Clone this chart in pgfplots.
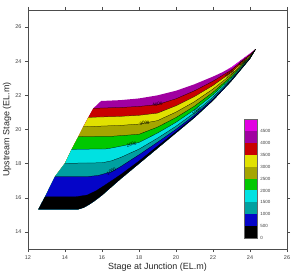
\documentclass[border=0pt]{standalone}
\usepackage{pgfplots}
\pgfplotsset{compat=1.18}
\usepackage{fontspec}
\setmainfont{Liberation Sans}
\definecolor{cBlack}{RGB}{0,0,0}
\definecolor{cBlue}{RGB}{5,5,200}
\definecolor{cTeal}{RGB}{0,160,160}
\definecolor{cCyan}{RGB}{0,225,225}
\definecolor{cGreen}{RGB}{0,200,0}
\definecolor{cOlive}{RGB}{165,165,0}
\definecolor{cYellow}{RGB}{225,225,0}
\definecolor{cRed}{RGB}{200,0,0}
\definecolor{cPurple}{RGB}{160,0,160}
\definecolor{cMagenta}{RGB}{225,0,225}
\begin{document}
\begin{tikzpicture}
\useasboundingbox (-28bp,-22bp) rectangle (263bp,249bp);
\begin{axis}[
  width=259bp, height=239bp, scale only axis,
  xmin=12, xmax=26, ymin=13, ymax=27,
  xtick={12,14,...,26}, ytick={14,16,...,26},
  tick align=outside, major tick length=3bp,
  axis line style={black!70}, every tick/.style={black!70},
  tick label style={font=\fontsize{5.5}{6}\selectfont, text=black!75},
  /pgf/number format/assume math mode=true,
  xlabel={Stage at Junction (EL.m)},
  ylabel={Upstream Stage (EL.m)},
  label style={font=\fontsize{9}{10}\selectfont, text=black!85},
  xlabel style={at={(axis description cs:0.5,-0.074)}, anchor=center},
  ylabel style={at={(axis description cs:-0.081,0.5)}, anchor=center},
  clip=false,
]
% whole domain (top band, 4000-4500)
\addplot[fill=cPurple, draw=none] coordinates {(12.56,15.32)(14.7,15.32)(15.0,15.42)(15.3,15.6)(15.6,15.82)(16,16.15)(17,17.1)(18,18.0)(19,18.9)(20,19.8)(21,20.7)(22,21.7)(23,22.85)(24,24.15)(24.3,24.7)(24,24.45)(23.5,24.05)(23,23.65)(22.5,23.35)(22,23.1)(21,22.65)(20,22.27)(19,22.0)(18,21.82)(17,21.72)(15.95,21.67)(15.53,21.24)(15.26,20.71)(14.99,20.16)(14.72,19.58)(14.36,18.84)(14.0,18.02)(13.46,17.24)(12.92,16.06)};
% above 4500 near the tip
\addplot[fill=cMagenta, draw=none] coordinates {(22.8,23.52)(23,23.65)(23.5,24.05)(24,24.45)(24.3,24.7)(24,24.42)(23.5,23.99)(23,23.6)};
% below 4000
\addplot[fill=cRed, draw=none] coordinates {(12.56,15.32)(12.92,16.06)(13.46,17.24)(14.0,18.02)(14.36,18.84)(14.72,19.58)(14.99,20.16)(15.26,20.71)(15.53,21.24)(17,21.29)(18,21.35)(19,21.46)(20,21.80)(21,22.27)(22,22.83)(23,23.49)(24,24.39)(24.3,24.7)(24,24.15)(23,22.85)(22,21.7)(21,20.7)(20,19.8)(19,18.9)(18,18.0)(17,17.1)(16,16.15)(15.6,15.82)(15.3,15.6)(15.0,15.42)(14.7,15.32)};
% below 3500
\addplot[fill=cYellow, draw=none] coordinates {(12.56,15.32)(12.92,16.06)(13.46,17.24)(14.0,18.02)(14.36,18.84)(14.72,19.58)(14.99,20.16)(15.26,20.71)(17,20.77)(18,20.83)(19,20.96)(20,21.39)(21,21.93)(22,22.58)(23,23.35)(24,24.34)(24.3,24.7)(24,24.15)(23,22.85)(22,21.7)(21,20.7)(20,19.8)(19,18.9)(18,18.0)(17,17.1)(16,16.15)(15.6,15.82)(15.3,15.6)(15.0,15.42)(14.7,15.32)};
% below 3000
\addplot[fill=cOlive, draw=none] coordinates {(12.56,15.32)(12.92,16.06)(13.46,17.24)(14.0,18.02)(14.36,18.84)(14.72,19.58)(14.99,20.16)(17,20.24)(18,20.32)(19,20.52)(20,21.02)(21,21.63)(22,22.37)(23,23.23)(24,24.29)(24.3,24.7)(24,24.15)(23,22.85)(22,21.7)(21,20.7)(20,19.8)(19,18.9)(18,18.0)(17,17.1)(16,16.15)(15.6,15.82)(15.3,15.6)(15.0,15.42)(14.7,15.32)};
% below 2500
\addplot[fill=cGreen, draw=none] coordinates {(12.56,15.32)(12.92,16.06)(13.46,17.24)(14.0,18.02)(14.36,18.84)(14.72,19.58)(16.5,19.6)(17,19.64)(18,19.72)(19,20.14)(20,20.70)(21,21.37)(22,22.18)(23,23.13)(24,24.25)(24.3,24.7)(24,24.15)(23,22.85)(22,21.7)(21,20.7)(20,19.8)(19,18.9)(18,18.0)(17,17.1)(16,16.15)(15.6,15.82)(15.3,15.6)(15.0,15.42)(14.7,15.32)};
% below 2000
\addplot[fill=cCyan, draw=none] coordinates {(12.56,15.32)(12.92,16.06)(13.46,17.24)(14.0,18.02)(14.36,18.84)(16.2,18.86)(16.6,18.93)(17,19.02)(18,19.24)(19,19.79)(20,20.42)(21,21.16)(22,22.03)(23,23.04)(24,24.22)(24.3,24.7)(24,24.15)(23,22.85)(22,21.7)(21,20.7)(20,19.8)(19,18.9)(18,18.0)(17,17.1)(16,16.15)(15.6,15.82)(15.3,15.6)(15.0,15.42)(14.7,15.32)};
% below 1500
\addplot[fill=cTeal, draw=none] coordinates {(12.56,15.32)(12.92,16.06)(13.46,17.24)(14.0,18.02)(16.0,18.05)(16.5,18.16)(17,18.36)(18,18.85)(19,19.49)(20,20.19)(21,20.98)(22,21.90)(23,22.96)(24,24.19)(24.3,24.7)(24,24.15)(23,22.85)(22,21.7)(21,20.7)(20,19.8)(19,18.9)(18,18.0)(17,17.1)(16,16.15)(15.6,15.82)(15.3,15.6)(15.0,15.42)(14.7,15.32)};
% below 1000
\addplot[fill=cBlue, draw=none] coordinates {(12.56,15.32)(12.92,16.06)(13.46,17.24)(15.2,17.24)(15.8,17.31)(16.5,17.52)(17,17.82)(18,18.52)(19,19.25)(20,20.01)(21,20.84)(22,21.80)(23,22.91)(24,24.17)(24.3,24.7)(24,24.15)(23,22.85)(22,21.7)(21,20.7)(20,19.8)(19,18.9)(18,18.0)(17,17.1)(16,16.15)(15.6,15.82)(15.3,15.6)(15.0,15.42)(14.7,15.32)};
% below 500
\addplot[fill=cBlack, draw=none] coordinates {(12.56,15.32)(12.92,16.06)(14.6,16.06)(15.2,16.16)(15.7,16.42)(16.2,16.77)(17,17.35)(18,18.15)(19,19.02)(20,19.87)(21,20.74)(22,21.73)(23,22.87)(24,24.16)(24.3,24.7)(24,24.15)(23,22.85)(22,21.7)(21,20.7)(20,19.8)(19,18.9)(18,18.0)(17,17.1)(16,16.15)(15.6,15.82)(15.3,15.6)(15.0,15.42)(14.7,15.32)};
% contour lines
\addplot[black, line width=0.25pt] coordinates {(12.92,16.06)(14.6,16.06)(15.2,16.16)(15.7,16.42)(16.2,16.77)(17,17.35)(18,18.15)(19,19.02)(20,19.87)(21,20.74)(22,21.73)(23,22.87)(24,24.16)(24.3,24.7)};
\addplot[black, line width=0.25pt] coordinates {(13.46,17.24)(15.2,17.24)(15.8,17.31)(16.5,17.52)(17,17.82)(18,18.52)(19,19.25)(20,20.01)(21,20.84)(22,21.80)(23,22.91)(24,24.17)(24.3,24.7)};
\addplot[black, line width=0.25pt] coordinates {(14.0,18.02)(16.0,18.05)(16.5,18.16)(17,18.36)(18,18.85)(19,19.49)(20,20.19)(21,20.98)(22,21.90)(23,22.96)(24,24.19)(24.3,24.7)};
\addplot[black, line width=0.25pt] coordinates {(14.36,18.84)(16.2,18.86)(16.6,18.93)(17,19.02)(18,19.24)(19,19.79)(20,20.42)(21,21.16)(22,22.03)(23,23.04)(24,24.22)(24.3,24.7)};
\addplot[black, line width=0.25pt] coordinates {(14.72,19.58)(16.5,19.6)(17,19.64)(18,19.72)(19,20.14)(20,20.70)(21,21.37)(22,22.18)(23,23.13)(24,24.25)(24.3,24.7)};
\addplot[black, line width=0.25pt] coordinates {(14.99,20.16)(17,20.24)(18,20.32)(19,20.52)(20,21.02)(21,21.63)(22,22.37)(23,23.23)(24,24.29)(24.3,24.7)};
\addplot[black, line width=0.25pt] coordinates {(15.26,20.71)(17,20.77)(18,20.83)(19,20.96)(20,21.39)(21,21.93)(22,22.58)(23,23.35)(24,24.34)(24.3,24.7)};
\addplot[black, line width=0.25pt] coordinates {(15.53,21.24)(17,21.29)(18,21.35)(19,21.46)(20,21.80)(21,22.27)(22,22.83)(23,23.49)(24,24.39)(24.3,24.7)};
% contour labels
\begin{scope}[every node/.style={font=\fontsize{4.5}{4.5}\selectfont, inner sep=0pt}]
\node[rotate=28] at (axis cs:16.5,17.55) {1000};
\node[rotate=14] at (axis cs:17.6,19.13) {2000};
\node[rotate=8] at (axis cs:18.3,20.39) {3000};
\node[rotate=12] at (axis cs:19.0,21.48) {4000};
\node[rotate=42] at (axis cs:21.1,21.08) {1000};
\node[rotate=40] at (axis cs:22.9,23.25) {3000};
\node[rotate=38] at (axis cs:23.6,23.95) {4000};
\end{scope}
% colour bar
\addplot[fill=cBlack, draw=none] coordinates {(23.68,13.640)(24.38,13.640)(24.38,14.337)(23.68,14.337)};
\addplot[fill=cBlue, draw=none] coordinates {(23.68,14.337)(24.38,14.337)(24.38,15.034)(23.68,15.034)};
\addplot[fill=cTeal, draw=none] coordinates {(23.68,15.034)(24.38,15.034)(24.38,15.731)(23.68,15.731)};
\addplot[fill=cCyan, draw=none] coordinates {(23.68,15.731)(24.38,15.731)(24.38,16.428)(23.68,16.428)};
\addplot[fill=cGreen, draw=none] coordinates {(23.68,16.428)(24.38,16.428)(24.38,17.125)(23.68,17.125)};
\addplot[fill=cOlive, draw=none] coordinates {(23.68,17.125)(24.38,17.125)(24.38,17.822)(23.68,17.822)};
\addplot[fill=cYellow, draw=none] coordinates {(23.68,17.822)(24.38,17.822)(24.38,18.519)(23.68,18.519)};
\addplot[fill=cRed, draw=none] coordinates {(23.68,18.519)(24.38,18.519)(24.38,19.216)(23.68,19.216)};
\addplot[fill=cPurple, draw=none] coordinates {(23.68,19.216)(24.38,19.216)(24.38,19.913)(23.68,19.913)};
\addplot[fill=cMagenta, draw=none] coordinates {(23.68,19.913)(24.38,19.913)(24.38,20.610)(23.68,20.610)};
\addplot[black!60, line width=0.3pt] coordinates {(23.68,13.64)(24.38,13.64)(24.38,20.61)(23.68,20.61)(23.68,13.64)};
\begin{scope}[every node/.style={font=\fontsize{4.5}{5}\selectfont, text=black!75, anchor=west, inner sep=0pt}]
\node at (axis cs:24.55,13.640) {0};
\node at (axis cs:24.55,14.337) {500};
\node at (axis cs:24.55,15.034) {1000};
\node at (axis cs:24.55,15.731) {1500};
\node at (axis cs:24.55,16.428) {2000};
\node at (axis cs:24.55,17.125) {2500};
\node at (axis cs:24.55,17.822) {3000};
\node at (axis cs:24.55,18.519) {3500};
\node at (axis cs:24.55,19.216) {4000};
\node at (axis cs:24.55,19.913) {4500};
\end{scope}
\end{axis}
\end{tikzpicture}
\end{document}
